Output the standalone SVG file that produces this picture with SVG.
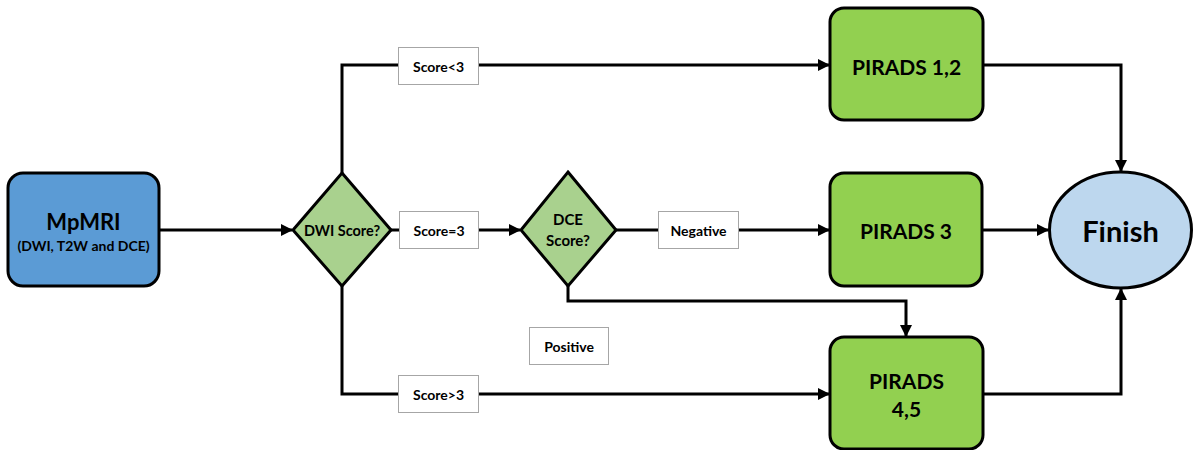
<svg xmlns="http://www.w3.org/2000/svg" width="1195" height="450" viewBox="0 0 1195 450">
  <style>
    .node { stroke: #000; stroke-width: 3; }
    .start { fill: #5b9bd5; }
    .decision { fill: #a9d18e; }
    .result { fill: #92d050; }
    .end { fill: #bdd7ee; }
    .tag { fill: #fff; stroke: #a6a6a6; stroke-width: 1; }
    .wire { fill: none; stroke: #000; stroke-width: 3; marker-end: url(#arrow); }
    text { font-family: Lato, "Open Sans", "Liberation Sans", sans-serif; font-weight: bold; fill: #000; text-anchor: middle; dominant-baseline: central; }
    .t14 { font-size: 14px; }
    .t21 { font-size: 21px; }
  </style>
  <defs>
    <marker id="arrow" viewBox="0 0 12 12" refX="11" refY="6" markerWidth="12" markerHeight="12" markerUnits="userSpaceOnUse" orient="auto">
      <path d="M0,0 L12,6 L0,12 Z" fill="#000"/>
    </marker>
  </defs>

  <!-- connectors -->
  <g id="connectors">
    <line class="wire" x1="159" y1="230" x2="292" y2="230"/>
    <polyline class="wire" points="342,173 342,65 829,65"/>
    <line class="wire" x1="391" y1="230" x2="520" y2="230"/>
    <line class="wire" x1="616" y1="230" x2="829" y2="230"/>
    <polyline class="wire" points="568,286 568,301 906,301 906,336"/>
    <polyline class="wire" points="342,286 342,394 829,394"/>
    <polyline class="wire" points="983,65 1121,65 1121,171"/>
    <line class="wire" x1="982" y1="230" x2="1048" y2="230"/>
    <polyline class="wire" points="983,394 1121,394 1121,289"/>
  </g>

  <!-- edge labels -->
  <g id="label-lt3">
    <rect class="tag" x="398.5" y="47.5" width="80" height="37"/>
    <text class="t14" x="438.5" y="66">Score&lt;3</text>
  </g>
  <g id="label-eq3">
    <rect class="tag" x="399.5" y="211.5" width="79" height="37"/>
    <text class="t14" x="439" y="230">Score=3</text>
  </g>
  <g id="label-gt3">
    <rect class="tag" x="398.5" y="375.5" width="80" height="37"/>
    <text class="t14" x="438.5" y="394">Score&gt;3</text>
  </g>
  <g id="label-negative">
    <rect class="tag" x="658.5" y="211.5" width="80" height="37"/>
    <text class="t14" x="698.5" y="230">Negative</text>
  </g>
  <g id="label-positive">
    <rect class="tag" x="529.5" y="327.5" width="79" height="37"/>
    <text class="t14" x="569" y="346">Positive</text>
  </g>

  <!-- nodes -->
  <g id="mpmri">
    <rect class="node start" x="8" y="173" width="151" height="113" rx="15"/>
    <text x="83.5" y="221" font-size="22">MpMRI</text>
    <text x="83.5" y="245" font-size="14">(DWI, T2W and DCE)</text>
  </g>
  <g id="dwi">
    <polygon class="node decision" points="342,173 391,230 342,286 293,230"/>
    <text x="342" y="230" font-size="14.5">DWI Score?</text>
  </g>
  <g id="dce">
    <polygon class="node decision" points="568,172 616,230 568,286 521,230"/>
    <text x="568" y="219" font-size="15">DCE</text>
    <text x="568" y="240" font-size="15">Score?</text>
  </g>
  <g id="pirads12">
    <rect class="node result" x="830" y="8" width="153" height="112" rx="14"/>
    <text class="t21" x="906.5" y="66">PIRADS 1,2</text>
  </g>
  <g id="pirads3">
    <rect class="node result" x="830" y="173" width="152" height="113" rx="14"/>
    <text class="t21" x="906" y="230">PIRADS 3</text>
  </g>
  <g id="pirads45">
    <rect class="node result" x="830" y="337" width="153" height="112" rx="14"/>
    <text class="t21" x="906.5" y="380">PIRADS</text>
    <text class="t21" x="906.5" y="408">4,5</text>
  </g>
  <g id="finish">
    <ellipse class="node end" cx="1120.5" cy="230" rx="71" ry="58"/>
    <text x="1120.5" y="230" font-size="29">Finish</text>
  </g>
</svg>
